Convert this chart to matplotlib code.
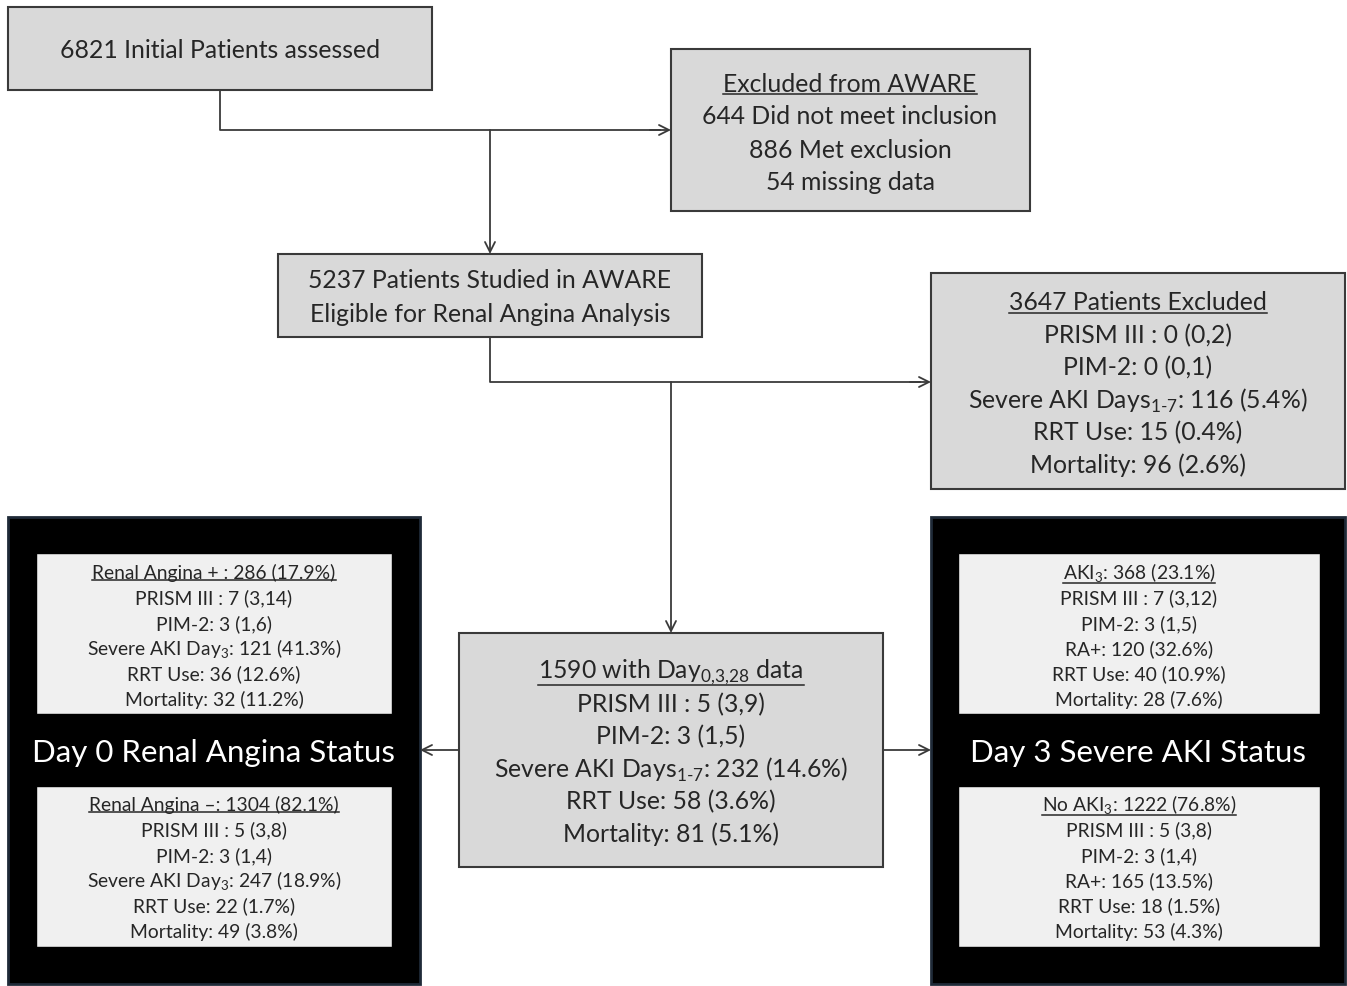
import matplotlib
matplotlib.use('Agg')
import matplotlib.pyplot as plt
from matplotlib.patches import Rectangle

plt.rcParams['font.family'] = ['Lato', 'DejaVu Sans']
plt.rcParams['mathtext.fontset'] = 'custom'
plt.rcParams['mathtext.rm'] = 'Lato'

W, H = 1347, 986

# box texts (first line underlined where marked)
initial_lines = ['6821 Initial Patients assessed']
excluded_lines = ['Excluded from AWARE', '644 Did not meet inclusion', '886 Met exclusion', '54 missing data']
studied_lines = ['5237 Patients Studied in AWARE', 'Eligible for Renal Angina Analysis']
excl2_lines = ['3647 Patients Excluded', 'PRISM III : 0 (0,2)', 'PIM-2: 0 (0,1)',
               r'Severe AKI Days$_{\mathregular{1\text{-}7}}$: 116 (5.4%)', 'RRT Use: 15 (0.4%)',
               'Mortality: 96 (2.6%)']
center_lines = [r'1590 with Day$_{\mathregular{0{,}3{,}28}}$ data', 'PRISM III : 5 (3,9)', 'PIM-2: 3 (1,5)',
                r'Severe AKI Days$_{\mathregular{1\text{-}7}}$: 232 (14.6%)', 'RRT Use: 58 (3.6%)',
                'Mortality: 81 (5.1%)']
ra_pos_lines = ['Renal Angina + : 286 (17.9%)', 'PRISM III : 7 (3,14)', 'PIM-2: 3 (1,6)',
                r'Severe AKI Day$_{\mathregular{3}}$: 121 (41.3%)', 'RRT Use: 36 (12.6%)',
                'Mortality: 32 (11.2%)']
ra_neg_lines = ['Renal Angina \u2013: 1304 (82.1%)', 'PRISM III : 5 (3,8)', 'PIM-2: 3 (1,4)',
                r'Severe AKI Day$_{\mathregular{3}}$: 247 (18.9%)', 'RRT Use: 22 (1.7%)',
                'Mortality: 49 (3.8%)']
aki_pos_lines = [r'AKI$_{\mathregular{3}}$: 368 (23.1%)', 'PRISM III : 7 (3,12)', 'PIM-2: 3 (1,5)',
                 'RA+: 120 (32.6%)', 'RRT Use: 40 (10.9%)', 'Mortality: 28 (7.6%)']
aki_neg_lines = [r'No AKI$_{\mathregular{3}}$: 1222 (76.8%)', 'PRISM III : 5 (3,8)', 'PIM-2: 3 (1,4)',
                 'RA+: 165 (13.5%)', 'RRT Use: 18 (1.5%)', 'Mortality: 53 (4.3%)']
left_title = 'Day 0 Renal Angina Status'
right_title = 'Day 3 Severe AKI Status'

fig = plt.figure(figsize=(W / 100, H / 100), dpi=100)
ax = fig.add_axes([0, 0, 1, 1])
ax.set_xlim(0, W)
ax.set_ylim(H, 0)
ax.axis('off')

GRAY = '#d9d9d9'
LIGHT = '#f0f0f0'
EDGE = '#3a3a3a'
TXT = '#262626'
underlines = []


def box(x0, y0, x1, y1, fc, ec=EDGE, lw=1.5):
    ax.add_patch(Rectangle((x0, y0), x1 - x0, y1 - y0, facecolor=fc, edgecolor=ec, lw=lw))


def lines_at(lines, cx, ys, size, underline_first=False, color=TXT):
    for i, (s, y) in enumerate(zip(lines, ys)):
        t = ax.text(cx, y + 2, s, ha='center', va='center', fontsize=size, color=color)
        if i == 0 and underline_first:
            underlines.append(t)


def arrow(x0, y0, x1, y1):
    ax.annotate('', xy=(x1, y1), xytext=(x0, y0),
                arrowprops=dict(arrowstyle='->', color=EDGE, lw=1.3, mutation_scale=18,
                                shrinkA=0, shrinkB=0))


# top boxes
box(8, 7, 432, 90, GRAY)
lines_at(initial_lines, 220, [49], 17.8)
box(671, 49, 1030, 211, GRAY)
lines_at(excluded_lines, 850, [82, 115, 148, 181], 17.8, underline_first=True)
box(278, 254, 702, 337, GRAY)
lines_at(studied_lines, 490, [279, 312], 17.8)
box(931, 273, 1345, 489, GRAY)
lines_at(excl2_lines, 1138, [301, 334, 366, 399, 431, 463], 17.8, underline_first=True)
box(459, 633, 883, 867, GRAY)
lines_at(center_lines, 671, [670, 703, 735, 768, 800, 832], 17.8, underline_first=True)

# connectors
ax.plot([220, 220, 660], [90, 130, 130], color=EDGE, lw=1.3)
arrow(650, 130, 671, 130)
arrow(490, 130, 490, 254)
ax.plot([490, 490, 920], [337, 382, 382], color=EDGE, lw=1.3)
arrow(910, 382, 931, 382)
arrow(671, 382, 671, 633)
arrow(459, 750, 420, 750)
arrow(883, 750, 931, 750)

# black side panels
ys_top = [571, 596, 622, 647, 672, 698]
ys_bot = [803, 828, 854, 879, 904, 930]
for (x0, x1, ix0, ix1, title, top, bot) in [
        (8, 420, 36, 392, left_title, ra_pos_lines, ra_neg_lines),
        (931, 1345, 958, 1320, right_title, aki_pos_lines, aki_neg_lines)]:
    box(x0, 517, x1, 984, 'black', ec='#1f2a38', lw=2)
    box(ix0, 553, ix1, 714, LIGHT, ec='black', lw=1)
    box(ix0, 786, ix1, 947, LIGHT, ec='black', lw=1)
    cx = (ix0 + ix1) / 2
    ax.text((x0 + x1) / 2, 753, title, ha='center', va='center', fontsize=22.5, color='white')
    lines_at(top, cx, ys_top, 13.9, underline_first=True)
    lines_at(bot, cx, ys_bot, 13.9, underline_first=True)

# underline headings
fig.canvas.draw()
r = fig.canvas.get_renderer()
inv = ax.transData.inverted()
for t in underlines:
    bb = t.get_window_extent(r)
    (xa, ya), (xb, yb) = inv.transform([(bb.x0, bb.y0), (bb.x1, bb.y1)])
    ax.plot([xa, xb], [ya - 2, ya - 2], color=TXT, lw=1.1)

fig.savefig('out.png', dpi=100)
